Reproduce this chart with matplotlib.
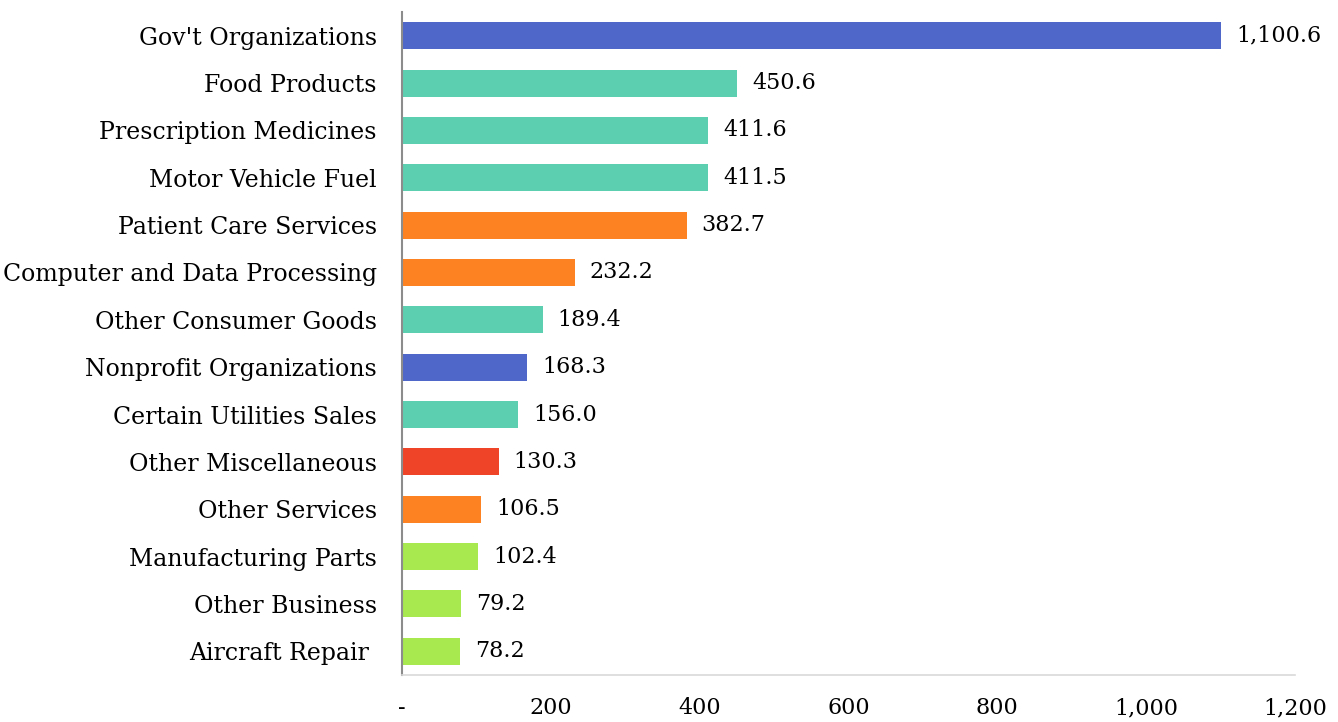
import matplotlib
matplotlib.use("Agg")
import matplotlib.pyplot as plt
from matplotlib.ticker import FuncFormatter

categories = ["Gov't Organizations", "Food Products", "Prescription Medicines",
              "Motor Vehicle Fuel", "Patient Care Services", "Computer and Data Processing",
              "Other Consumer Goods", "Nonprofit Organizations", "Certain Utilities Sales",
              "Other Miscellaneous", "Other Services", "Manufacturing Parts",
              "Other Business", "Aircraft Repair "]
values = [1100.6, 450.6, 411.6, 411.5, 382.7, 232.2, 189.4, 168.3, 156.0,
          130.3, 106.5, 102.4, 79.2, 78.2]
groups = ["gov", "goods", "goods", "goods", "services", "services", "goods", "gov",
          "goods", "misc", "services", "business", "business", "business"]
xticks = [0, 200, 400, 600, 800, 1000, 1200]

colors = {"gov": "#4f67c8", "goods": "#5dcfb1", "services": "#fd8222",
          "misc": "#ef4427", "business": "#a7e94f"}

plt.rcParams['font.family'] = ['DejaVu Serif']

fig = plt.figure(figsize=(13.38, 7.22), dpi=100)
ax = fig.add_axes([0.3004, 0.0651, 0.6675, 0.9183])

ypos = list(range(len(categories)))
ax.barh(ypos, values, height=0.57, color=[colors[g] for g in groups])
# value labels just past the end of each bar
for y, v in zip(ypos, values):
    ax.text(v + 20, y, f"{v:,.1f}", va='center', ha='left', fontsize=16)

ax.set_yticks(ypos)
ax.set_yticklabels(categories, fontsize=17)
ax.set_ylim(len(categories) - 0.5, -0.5)
ax.set_xlim(0, 1200)
ax.set_xticks(xticks)
ax.xaxis.set_major_formatter(FuncFormatter(lambda x, p: "-" if x == 0 else f"{x:,.0f}"))
ax.tick_params(axis='x', labelsize=16, length=0, pad=16)
ax.tick_params(axis='y', length=0, pad=18)

for s in ['top', 'right']:
    ax.spines[s].set_visible(False)
ax.spines['left'].set_color('#8c8c8c')
ax.spines['left'].set_linewidth(1.5)
ax.spines['bottom'].set_color('#d9d9d9')
ax.spines['bottom'].set_linewidth(1.2)

fig.savefig("out.png", dpi=100)
